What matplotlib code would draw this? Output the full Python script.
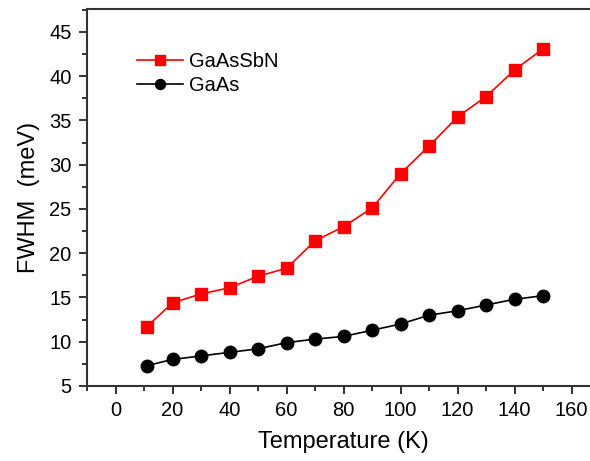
import numpy as np
import matplotlib
matplotlib.use("Agg")
import matplotlib.pyplot as plt
from matplotlib.ticker import MultipleLocator

# data
temps = [11, 20, 30, 40, 50, 60, 70, 80, 90, 100, 110, 120, 130, 140, 150]
fwhm_gaassbn = [11.7, 14.4, 15.4, 16.1, 17.4, 18.3, 21.4, 23.0, 25.1, 29.0, 32.1, 35.4, 37.7, 40.7, 43.1]
fwhm_gaas = [7.3, 8.0, 8.4, 8.8, 9.2, 9.9, 10.3, 10.6, 11.3, 12.0, 13.0, 13.5, 14.15, 14.8, 15.2]

plt.rcParams['font.family'] = ['Liberation Sans', 'DejaVu Sans']

fig = plt.figure(figsize=(5.9, 4.61), dpi=100)
ax = fig.add_axes([0.1475, 0.1627, 0.8695, 0.8178])

ax.plot(temps, fwhm_gaassbn, color='red', marker='s', markersize=8.5, lw=1.2, label='GaAsSbN')
ax.plot(temps, fwhm_gaas, color='black', marker='o', markersize=9, lw=1.2, label='GaAs')

ax.set_xlim(-10, 170)
ax.set_ylim(5, 47.6)
ax.xaxis.set_major_locator(MultipleLocator(20))
ax.xaxis.set_minor_locator(MultipleLocator(10))
ax.yaxis.set_major_locator(MultipleLocator(5))
ax.yaxis.set_minor_locator(MultipleLocator(2.5))
ax.tick_params(which='both', direction='out', width=1.3, colors='#222222', labelcolor='black')
ax.tick_params(which='major', length=6, labelsize=14.5, pad=5)
ax.tick_params(which='minor', length=3.5)
for s in ax.spines.values():
    s.set_linewidth(1.5)
    s.set_color('#333333')

ax.set_xlabel('Temperature (K)', fontsize=17, labelpad=8)
ax.set_ylabel('FWHM  (meV)', fontsize=17, labelpad=7)

ax.legend(loc='upper left', bbox_to_anchor=(0.097, 0.885), frameon=False, fontsize=14.5,
          handlelength=2.3, handletextpad=0.3, labelspacing=0.25, markerscale=0.8,
          borderpad=0, borderaxespad=0)

fig.savefig('out.png', dpi=100)
